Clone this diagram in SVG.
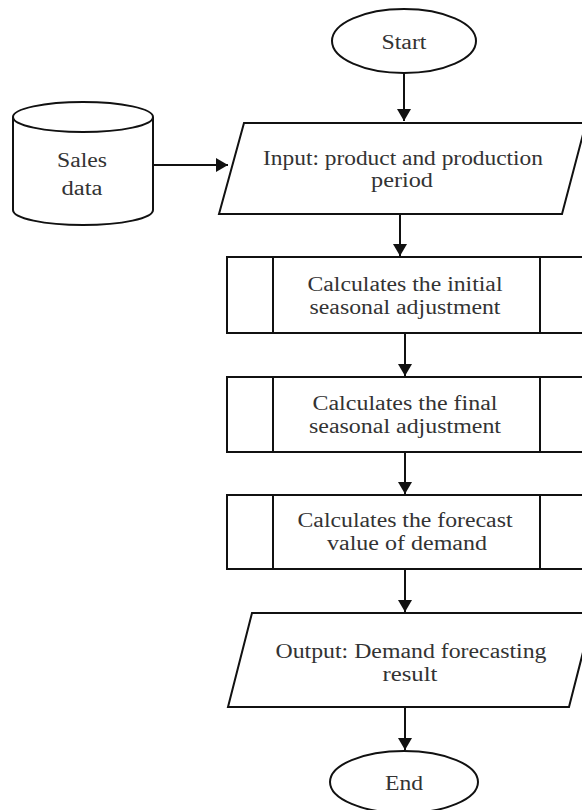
<svg xmlns="http://www.w3.org/2000/svg" width="582" height="810" viewBox="0 0 582 810">
<style>
.s{fill:#fff;stroke:#111;stroke-width:2}
.t{font-family:"Liberation Serif","Times New Roman",serif;font-size:20px;fill:#333;text-anchor:middle}
.c{stroke:#111;stroke-width:2;fill:none}
</style>
<defs>
<marker id="ah" markerWidth="12" markerHeight="14" refX="12" refY="7" orient="auto" markerUnits="userSpaceOnUse">
<path d="M0,0 L12,7 L0,14 Z" fill="#111"/>
</marker>
</defs>
<rect width="582" height="810" fill="#fff"/>
<g id="connectors">
<line class="c" x1="404" y1="73" x2="404" y2="121" marker-end="url(#ah)"/>
<line class="c" x1="153" y1="165" x2="228" y2="165" marker-end="url(#ah)"/>
<line class="c" x1="400" y1="215" x2="400" y2="256" marker-end="url(#ah)"/>
<line class="c" x1="405" y1="333" x2="405" y2="376" marker-end="url(#ah)"/>
<line class="c" x1="405" y1="452" x2="405" y2="494" marker-end="url(#ah)"/>
<line class="c" x1="405" y1="569" x2="405" y2="612" marker-end="url(#ah)"/>
<line class="c" x1="405" y1="707" x2="405" y2="750" marker-end="url(#ah)"/>
</g>
<g id="start">
<ellipse class="s" cx="404" cy="41" rx="72" ry="32"/>
<text class="t" x="404" y="49" textLength="45" lengthAdjust="spacingAndGlyphs">Start</text>
</g>
<g id="sales-data">
<path class="s" d="M13,117 L13,210 A70,15 0 0 0 153,210 L153,117 A70,15 0 0 0 13,117 Z"/>
<path class="c" d="M13,117 A70,15 0 0 0 153,117"/>
<text class="t" x="82" y="167" textLength="50" lengthAdjust="spacingAndGlyphs">Sales</text>
<text class="t" x="82" y="195" textLength="41" lengthAdjust="spacingAndGlyphs">data</text>
</g>
<g id="input">
<polygon class="s" points="244,123 586,123 562,214 219,214"/>
<text class="t" x="403" y="165" textLength="280" lengthAdjust="spacingAndGlyphs">Input: product and production</text>
<text class="t" x="402" y="187" textLength="62" lengthAdjust="spacingAndGlyphs">period</text>
</g>
<g id="initial-adjustment">
<rect class="s" x="227" y="257" width="365" height="76"/>
<line class="c" x1="273" y1="257" x2="273" y2="333"/>
<line class="c" x1="540" y1="257" x2="540" y2="333"/>
<text class="t" x="405" y="291" textLength="195" lengthAdjust="spacingAndGlyphs">Calculates the initial</text>
<text class="t" x="405" y="314" textLength="191" lengthAdjust="spacingAndGlyphs">seasonal adjustment</text>
</g>
<g id="final-adjustment">
<rect class="s" x="227" y="377" width="365" height="75"/>
<line class="c" x1="273" y1="377" x2="273" y2="452"/>
<line class="c" x1="540" y1="377" x2="540" y2="452"/>
<text class="t" x="405" y="410" textLength="185" lengthAdjust="spacingAndGlyphs">Calculates the final</text>
<text class="t" x="405" y="433" textLength="192" lengthAdjust="spacingAndGlyphs">seasonal adjustment</text>
</g>
<g id="forecast-value">
<rect class="s" x="227" y="495" width="365" height="74"/>
<line class="c" x1="273" y1="495" x2="273" y2="569"/>
<line class="c" x1="540" y1="495" x2="540" y2="569"/>
<text class="t" x="405" y="527" textLength="215" lengthAdjust="spacingAndGlyphs">Calculates the forecast</text>
<text class="t" x="407" y="550" textLength="160" lengthAdjust="spacingAndGlyphs">value of demand</text>
</g>
<g id="output">
<polygon class="s" points="252,613 593,613 569,707 228,707"/>
<text class="t" x="411" y="658" textLength="271" lengthAdjust="spacingAndGlyphs">Output: Demand forecasting</text>
<text class="t" x="410" y="681" textLength="55" lengthAdjust="spacingAndGlyphs">result</text>
</g>
<g id="end">
<ellipse class="s" cx="404" cy="782" rx="74" ry="31"/>
<text class="t" x="404" y="790" textLength="38" lengthAdjust="spacingAndGlyphs">End</text>
</g>
</svg>
